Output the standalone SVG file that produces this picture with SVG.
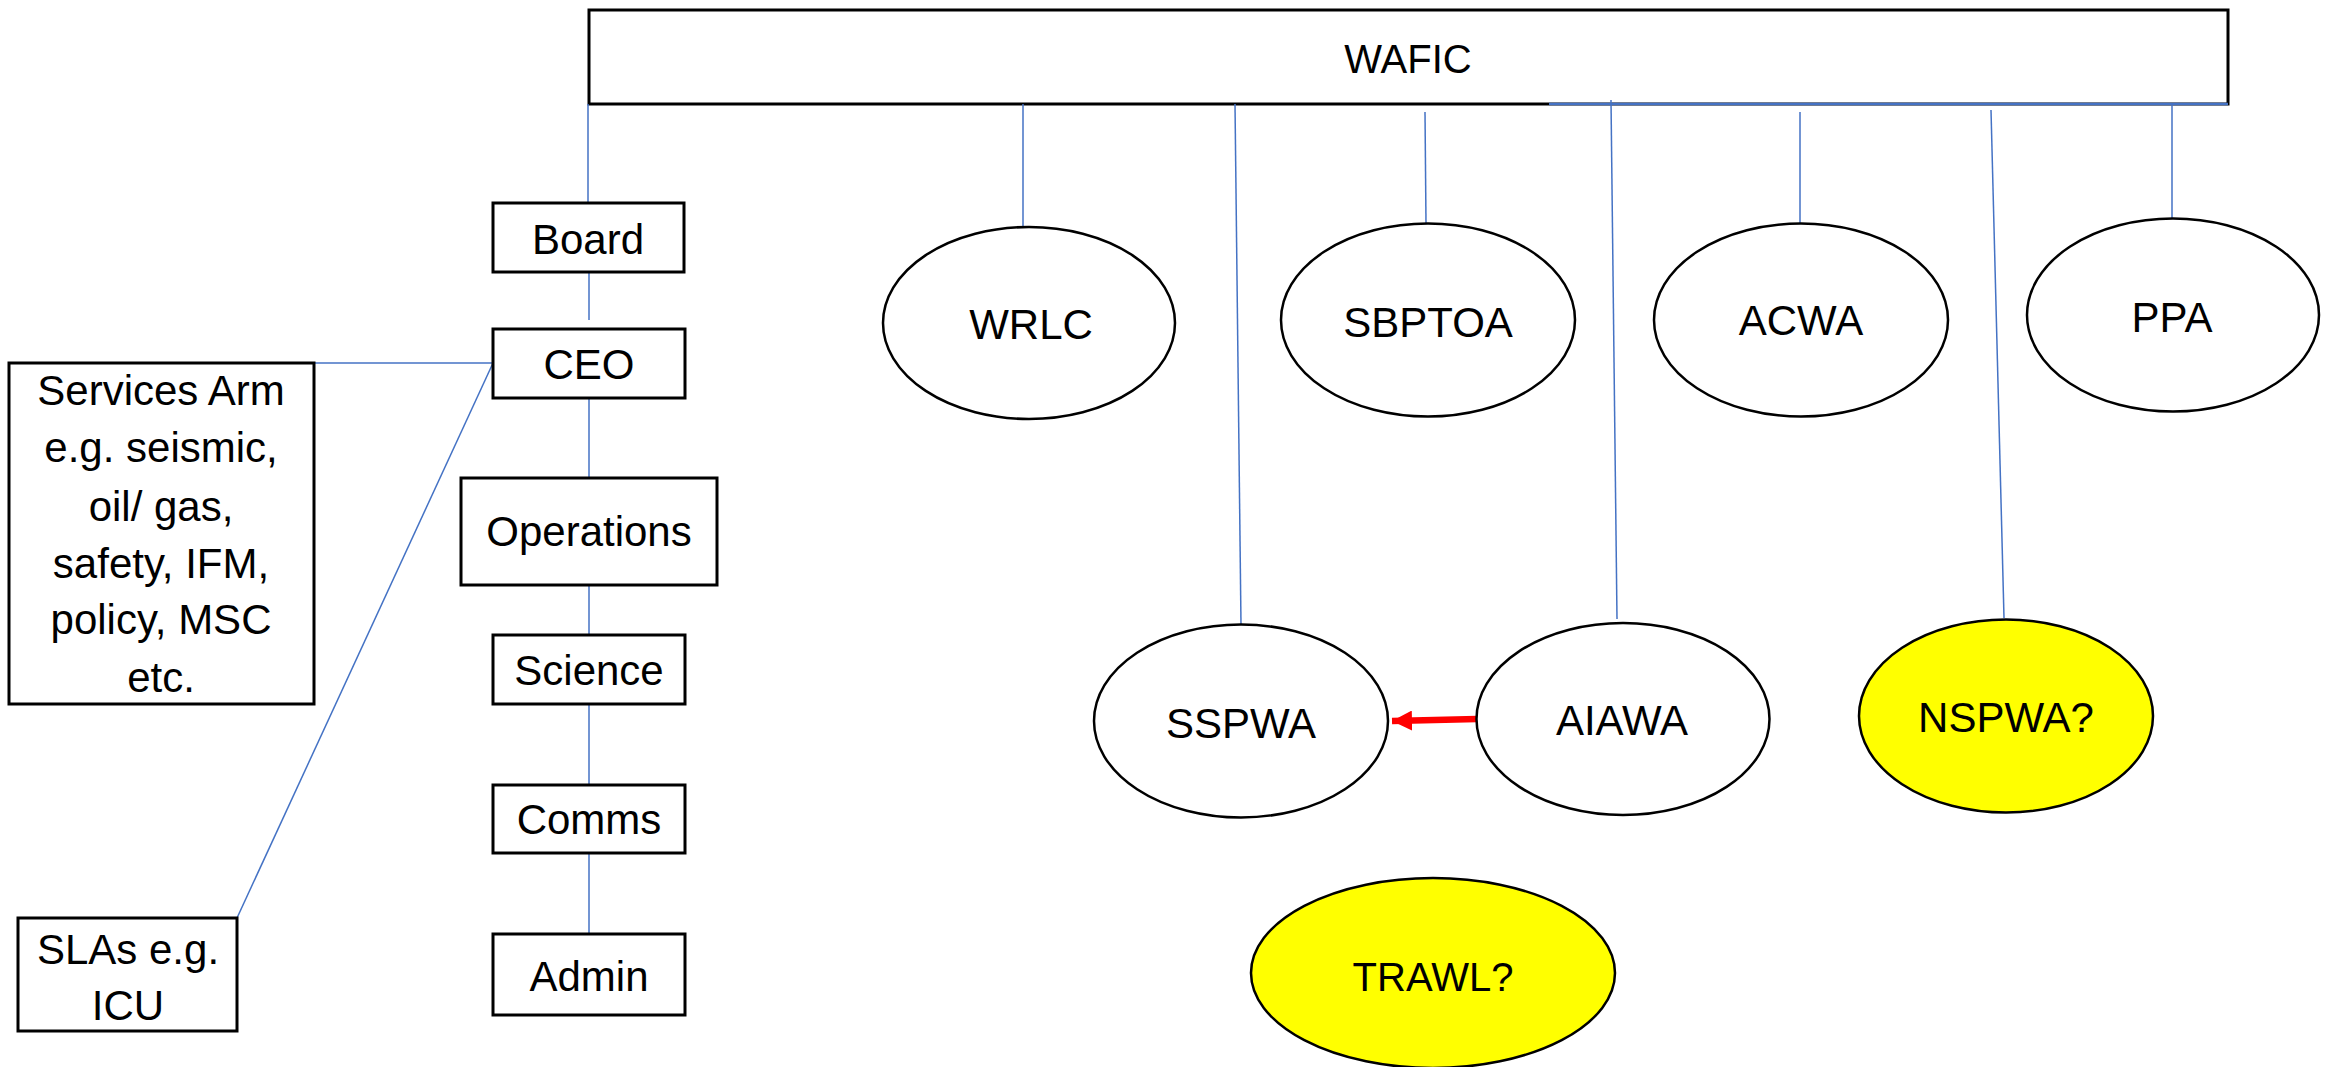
<svg xmlns="http://www.w3.org/2000/svg" width="2339" height="1067" viewBox="0 0 2339 1067">
<style>
.box{fill:#fff;stroke:#000;stroke-width:3}
.ell{fill:#fff;stroke:#000;stroke-width:2.5}
.yel{fill:#ffff00}
.t{font-family:"Liberation Sans",Arial,sans-serif;font-size:42px;fill:#000;text-anchor:middle}
.c{stroke:#4472C4;stroke-width:1.5;fill:none}
</style>
<defs>
<marker id="ah" markerUnits="userSpaceOnUse" markerWidth="22" markerHeight="20" refX="20" refY="10" orient="auto">
<polygon points="0,0 20,10 0,20" fill="#ff0000"/>
</marker>
</defs>
<rect width="2339" height="1067" fill="#fff"/>

<g id="WAFIC"><rect class="box" x="589" y="10" width="1639" height="94"/><text class="t" x="1408" y="73" style="font-size:40px">WAFIC</text></g>

<g id="connectors">
<line class="c" x1="1549" y1="104" x2="2228" y2="104" style="stroke-width:2.5"/>
<line class="c" x1="588" y1="104" x2="588" y2="203"/>
<line class="c" x1="589" y1="272" x2="589" y2="320"/>
<line class="c" x1="589" y1="398" x2="589" y2="478"/>
<line class="c" x1="589" y1="585" x2="589" y2="635"/>
<line class="c" x1="589" y1="704" x2="589" y2="785"/>
<line class="c" x1="589" y1="853" x2="589" y2="934"/>
<line class="c" x1="314" y1="363" x2="493" y2="363"/>
<line class="c" x1="493" y1="363" x2="237" y2="918"/>
<line class="c" x1="1023" y1="104" x2="1023" y2="227"/>
<line class="c" x1="1235" y1="104" x2="1241" y2="625"/>
<line class="c" x1="1425" y1="112" x2="1426" y2="224"/>
<line class="c" x1="1611" y1="100" x2="1617" y2="619"/>
<line class="c" x1="1800" y1="112" x2="1800" y2="223"/>
<line class="c" x1="1991" y1="110" x2="2004" y2="618"/>
<line class="c" x1="2172" y1="104" x2="2172" y2="218"/>
<line x1="1477" y1="719" x2="1392" y2="721" stroke="#ff0000" stroke-width="6.5" marker-end="url(#ah)"/>
</g>

<g id="Board"><rect class="box" x="493" y="203" width="191" height="69"/><text class="t" x="588" y="254">Board</text></g>
<g id="CEO"><rect class="box" x="493" y="329" width="192" height="69"/><text class="t" x="589" y="379">CEO</text></g>
<g id="Operations"><rect class="box" x="461" y="478" width="256" height="107"/><text class="t" x="589" y="546">Operations</text></g>
<g id="Science"><rect class="box" x="493" y="635" width="192" height="69"/><text class="t" x="589" y="685">Science</text></g>
<g id="Comms"><rect class="box" x="493" y="785" width="192" height="68"/><text class="t" x="589" y="834">Comms</text></g>
<g id="Admin"><rect class="box" x="493" y="934" width="192" height="81"/><text class="t" x="589" y="991">Admin</text></g>

<g id="ServicesArm"><rect class="box" x="9" y="363" width="305" height="341"/>
<text class="t"><tspan x="161" y="405">Services Arm</tspan><tspan x="161" y="462">e.g. seismic,</tspan><tspan x="161" y="521">oil/ gas,</tspan><tspan x="161" y="578">safety, IFM,</tspan><tspan x="161" y="634">policy, MSC</tspan><tspan x="161" y="692">etc.</tspan></text></g>

<g id="SLAs"><rect class="box" x="18" y="918" width="219" height="113"/>
<text class="t"><tspan x="128" y="964">SLAs e.g.</tspan><tspan x="128" y="1020">ICU</tspan></text></g>

<g id="WRLC"><ellipse class="ell" cx="1029" cy="323" rx="146" ry="96"/><text class="t" x="1031" y="339">WRLC</text></g>
<g id="SBPTOA"><ellipse class="ell" cx="1428" cy="320" rx="147" ry="96.5"/><text class="t" x="1428" y="337">SBPTOA</text></g>
<g id="ACWA"><ellipse class="ell" cx="1801" cy="320" rx="147" ry="96.5"/><text class="t" x="1801" y="335">ACWA</text></g>
<g id="PPA"><ellipse class="ell" cx="2173" cy="315" rx="146" ry="96.5"/><text class="t" x="2172" y="332">PPA</text></g>
<g id="SSPWA"><ellipse class="ell" cx="1241" cy="721" rx="147" ry="96.5"/><text class="t" x="1241" y="738">SSPWA</text></g>
<g id="AIAWA"><ellipse class="ell" cx="1623" cy="719" rx="146.5" ry="96"/><text class="t" x="1622" y="735">AIAWA</text></g>
<g id="NSPWA"><ellipse class="ell yel" cx="2006" cy="716" rx="147" ry="96.5"/><text class="t" x="2006" y="732">NSPWA?</text></g>
<g id="TRAWL"><ellipse class="ell yel" cx="1433" cy="973" rx="182" ry="95"/><text class="t" x="1433" y="991" style="font-size:40px">TRAWL?</text></g>
</svg>
